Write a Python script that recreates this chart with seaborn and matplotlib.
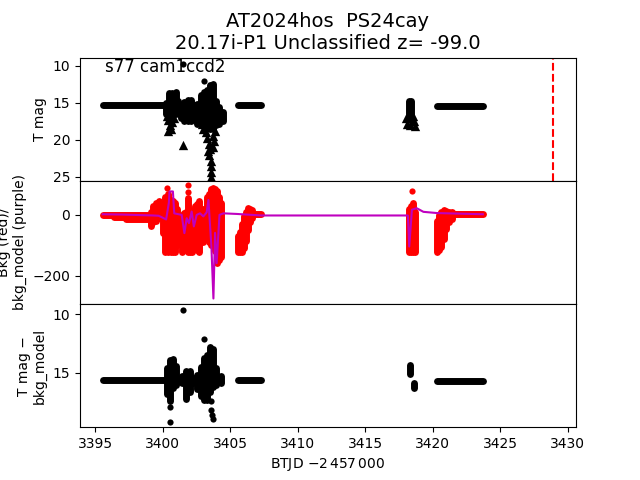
import matplotlib
matplotlib.use("Agg")
import numpy as np
import pandas as pd
import matplotlib.pyplot as plt
import seaborn as sns

# ---- data (BTJD - 2457000) ----
# top panel: T mag, dense runs as (t_start, t_end, mag)
mag_streaks = [(3395.6, 3400.1, 15.35), (3405.6, 3407.3, 15.35), (3420.3, 3423.7, 15.45)]
# dense vertical smears as (t, mag_bright, mag_faint)
mag_cols = [(3400.25, 15.0, 16.5), (3400.45, 13.7, 17.0), (3400.7, 13.6, 17.0),
            (3400.95, 13.5, 16.5), (3401.15, 14.8, 15.8),
            (3401.35, 15.4, 17.0), (3401.6, 14.9, 17.4), (3401.85, 14.6, 17.4),
            (3402.1, 14.6, 17.4), (3402.35, 15.3, 17.2),
            (3402.55, 15.1, 17.8), (3402.8, 14.0, 18.0), (3403.05, 13.5, 18.0),
            (3403.3, 13.3, 18.2), (3403.5, 12.6, 18.5), (3403.7, 12.5, 18.5),
            (3403.95, 14.8, 18.0), (3404.2, 15.5, 17.8), (3404.45, 16.3, 17.5),
            (3418.2, 14.7, 16.5), (3418.4, 14.7, 17.3)]
mag_t = [3401.52, 3403.08]
mag_v = [9.7, 12.05]
lim_t = [3400.3, 3400.4, 3400.55, 3400.4, 3400.6, 3400.7, 3400.85, 3401.52,
         3402.9, 3403.0, 3403.2, 3403.3, 3403.4, 3403.5, 3403.45, 3403.6, 3403.55,
         3403.6, 3403.55, 3403.7, 3403.8, 3403.75, 3403.35, 3403.25, 3403.85,
         3418.0, 3418.1, 3418.3, 3418.6, 3418.7, 3418.5]
lim_v = [16.8, 17.3, 18.0, 18.8, 18.5, 17.6, 17.0, 20.7,
         17.8, 18.5, 19.0, 19.8, 20.5, 21.3, 22.0, 22.8, 23.5,
         24.3, 25.0, 19.5, 20.2, 21.0, 21.5, 18.3, 18.8,
         17.0, 17.8, 18.0, 17.5, 18.1, 16.8]
t_peak = 3428.93

# middle panel: background flux (red) and background model (purple)
bkg_streaks = [(3395.6, 3399.8, 1.0), (3396.4, 3399.2, -6.0), (3397.3, 3399.0, -13.0),
               (3406.6, 3407.3, 2.0), (3420.5, 3423.7, 2.0)]
bkg_cols = [(3399.1, 10, -35), (3399.3, 30, -25), (3399.5, 38, -20), (3399.7, 45, -10),
            (3400.05, 35, -60), (3400.2, 60, -121), (3400.4, 70, -121), (3400.6, 50, -121),
            (3400.75, 45, -121), (3400.9, 40, -121), (3401.05, 20, -100),
            (3401.45, 0, -121), (3401.6, 5, -115), (3401.75, 10, -110), (3401.9, 55, -121),
            (3402.05, 15, -121), (3402.2, 10, -121), (3402.4, 30, -110), (3402.55, 35, -115),
            (3402.7, 45, -121), (3402.95, 20, -90),
            (3403.3, 60, -60), (3403.4, 70, -90), (3403.55, 85, -100), (3403.75, 89, -80),
            (3403.9, 85, -120), (3404.0, 80, -159), (3404.15, 60, -150), (3404.3, 40, -140),
            (3405.55, -70, -121), (3405.7, -55, -121), (3405.85, -30, -121),
            (3406.0, -5, -110), (3406.15, 10, -85), (3406.3, 22, -50),
            (3406.45, 20, -25), (3406.6, 15, -10),
            (3418.2, 20, -121), (3418.35, 30, -121), (3418.5, 38, -121), (3418.65, 10, -121),
            (3420.3, -20, -121), (3420.45, 0, -115), (3420.6, 10, -105), (3420.8, 15, -80),
            (3421.0, 12, -45), (3421.2, 10, -25), (3421.4, 8, -12)]
bkg_t = [3400.34, 3401.9, 3401.9, 3418.49]
bkg_v = [88, 99, 75, 77]
model_t = [3395.55, 3397.0, 3398.5, 3399.3, 3399.7, 3400.25, 3400.45, 3400.5, 3400.75,
           3400.85, 3401.4, 3401.6, 3401.77, 3401.94, 3402.14, 3402.3, 3402.51,
           3402.76, 3403.0, 3403.25, 3403.38, 3403.6, 3403.75, 3403.87, 3403.99,
           3404.2, 3404.5, 3405.5, 3407.3, 3418.15, 3418.25, 3418.45, 3418.8,
           3419.3, 3420.3, 3423.7]
model_v = [2, 1, -1, -2, -3, -15, 40, 77, 77,
           5, 0, -60, -11, -27, 11, -38, 0,
           5, -5, 8, 49, -104, -275, -59, -159,
           0, 5, 3, -2, -2, -104, 17, 22,
           10, 6, 2]

# bottom panel: T mag - bkg_model
sub_streaks = [(3395.6, 3400.1, 15.63), (3405.6, 3407.3, 15.63), (3420.3, 3423.7, 15.68)]
sub_cols = [(3400.3, 14.6, 16.8), (3400.5, 13.9, 17.4), (3400.75, 13.8, 16.3),
            (3401.0, 14.4, 16.0),
            (3401.4, 15.3, 15.9), (3401.75, 14.8, 17.2), (3402.0, 14.8, 16.6),
            (3402.25, 15.4, 15.9),
            (3402.55, 15.2, 16.4), (3402.8, 14.5, 17.0), (3403.05, 13.7, 17.3),
            (3403.3, 13.5, 17.3), (3403.5, 12.8, 16.6), (3403.7, 13.0, 16.2),
            (3403.95, 14.6, 16.0), (3404.3, 15.3, 15.9),
            (3418.3, 14.35, 15.05), (3418.6, 15.9, 16.3)]
sub_t = [3401.52, 3400.55, 3400.55, 3403.08, 3403.55, 3403.6, 3403.68, 3403.72]
sub_v = [9.63, 17.9, 19.2, 12.14, 17.4, 18.2, 18.6, 18.95]


def seg_frame(streaks, cols):
    rows = []
    k = 0
    for t0, t1, v in streaks:
        rows += [(t0, v, k), (t1, v, k)]
        k += 1
    for t, v0, v1 in cols:
        rows += [(t, v0, k), (t, v1, k)]
        k += 1
    return pd.DataFrame(rows, columns=["x", "y", "seg"])


def draw_dense(ax, streaks, cols, color):
    df = seg_frame(streaks, cols)
    sns.lineplot(data=df, x="x", y="y", units="seg", estimator=None, color=color,
                 lw=5, solid_capstyle="round", legend=False, ax=ax)


fig, axes = plt.subplots(3, 1, sharex=True, figsize=(6.4, 4.8), dpi=100)
fig.subplots_adjust(hspace=0)
ax1, ax2, ax3 = axes

# top
draw_dense(ax1, mag_streaks, mag_cols, "k")
sns.scatterplot(x=mag_t, y=mag_v, color="k", s=20, linewidth=0, ax=ax1)
sns.scatterplot(x=lim_t, y=lim_v, color="k", marker="^", s=45, linewidth=0, ax=ax1)
ax1.axvline(t_peak, color="r", ls="--", lw=1.5)
ax1.set_ylim(25.54, 8.88)
ax1.set_ylabel("T mag")
ax1.set_title("AT2024hos  PS24cay\n20.17i-P1 Unclassified z= -99.0", fontsize=14)
ax1.text(0.05, 0.88, "s77 cam1ccd2", transform=ax1.transAxes, fontsize=12)

# middle
draw_dense(ax2, bkg_streaks, bkg_cols, "r")
sns.scatterplot(x=bkg_t, y=bkg_v, color="r", s=20, linewidth=0, ax=ax2)
sns.lineplot(x=model_t, y=model_v, color="m", lw=1.5, sort=False, estimator=None, ax=ax2)
ax2.set_ylim(-293, 112)
ax2.set_ylabel("Bkg (red)/\nbkg_model (purple)")

# bottom
draw_dense(ax3, sub_streaks, sub_cols, "k")
sns.scatterplot(x=sub_t, y=sub_v, color="k", s=20, linewidth=0, ax=ax3)
ax3.set_ylim(19.63, 9.12)
ax3.set_ylabel("T mag \u2212\nbkg_model")
ax3.set_xlabel(r"BTJD $-2\,457\,000$")

for ax in (ax1, ax2):
    ax.tick_params(axis="x", bottom=False, labelbottom=False)
    ax.set_xlabel("")
ax3.set_xlim(3393.87, 3430.6)

fig.savefig("out.png", dpi=100)
